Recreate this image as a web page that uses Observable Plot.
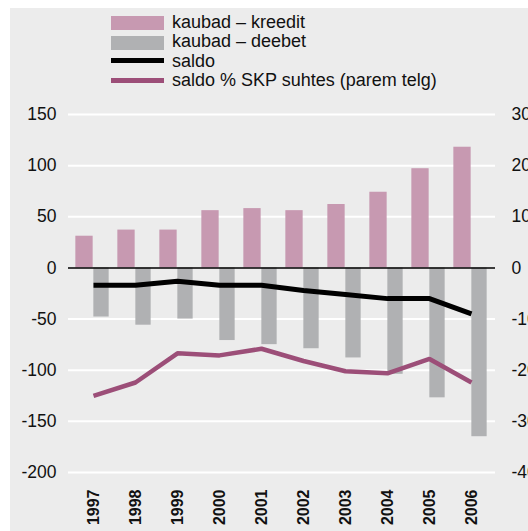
<!DOCTYPE html>
<html>
<head>
<meta charset="utf-8">
<script src="https://cdn.jsdelivr.net/npm/d3@7"></script>
<script src="https://cdn.jsdelivr.net/npm/@observablehq/plot@0.6"></script>
<style>
  html, body { margin: 0; padding: 0; background: #fff; }
  #wrap { position: relative; width: 528px; height: 531px; overflow: hidden; font-family: "Liberation Sans", Arial, sans-serif; }
  #bg { position: absolute; left: 10px; top: 8px; right: 0; bottom: 0; background: #ececec; }
  #chart { position: absolute; left: 0; top: 0; }
  .lg-sw { position: absolute; left: 111px; width: 53px; }
  .lg-tx { position: absolute; left: 172px; font-size: 18px; line-height: 18px; color: #111; white-space: nowrap; }
</style>
</head>
<body>
<div id="wrap">
  <div id="bg"></div>
  <div id="chart"></div>
  <div id="legend"></div>
</div>
<script>
const years = ["1997","1998","1999","2000","2001","2002","2003","2004","2005","2006"];
const kreedit = [31, 37, 37, 56, 58, 56, 62, 74, 97, 118];
const deebet = [-48, -56, -50, -71, -75, -79, -88, -104, -127, -165];
const saldo = [-17, -17, -13, -17, -17, -22, -26, -30, -30, -45];
const saldoPct = [-25, -22.4, -16.7, -17.1, -15.8, -18.2, -20.2, -20.6, -17.8, -22.4];
const leftTicks = [-200, -150, -100, -50, 0, 50, 100, 150];
const legendItems = [
  {label: "kaubad – kreedit", color: "#c799b1", kind: "bar"},
  {label: "kaubad – deebet", color: "#b0b1b3", kind: "bar"},
  {label: "saldo", color: "#000000", kind: "line"},
  {label: "saldo % SKP suhtes (parem telg)", color: "#9c4e78", kind: "line"}
];

const rows = years.map((y, i) => ({year: y, kreedit: kreedit[i], deebet: deebet[i], saldo: saldo[i], pct: saldoPct[i]}));

const W = 528, H = 531;
const mL = 68, mR = 33, mT = 114, mB = 59;
const bw = (W - mL - mR) / years.length;

const chart = Plot.plot({
  width: W, height: H,
  marginLeft: mL, marginRight: mR, marginTop: mT, marginBottom: mB,
  style: {background: "transparent", fontFamily: "'Liberation Sans', Arial, sans-serif", fontSize: "17.5px", color: "#111"},
  x: {type: "band", domain: years, paddingInner: 0, paddingOuter: 0},
  y: {domain: [-200, 150]},
  marks: [
    Plot.ruleY(leftTicks.filter(d => d !== 0), {stroke: "#ffffff", strokeWidth: 2}),
    Plot.barY(rows, {x: "year", y: "kreedit", fill: "#c799b1", insetLeft: bw / 2 - 18, insetRight: bw / 2}),
    Plot.barY(rows, {x: "year", y: "deebet", fill: "#b0b1b3", insetLeft: bw / 2, insetRight: bw / 2 - 16}),
    Plot.ruleY([0], {stroke: "#000", strokeWidth: 1.5}),
    Plot.lineY(rows, {x: "year", y: "saldo", stroke: "#000", strokeWidth: 5, strokeLinecap: "butt", strokeLinejoin: "miter"}),
    Plot.lineY(rows, {x: "year", y: d => d.pct * 5, stroke: "#9c4e78", strokeWidth: 4.5, strokeLinecap: "butt", strokeLinejoin: "miter"}),
    Plot.axisY({anchor: "left", ticks: leftTicks, tickSize: 0, tickPadding: 12, tickFormat: d => String(d), label: null}),
    Plot.axisY({anchor: "right", ticks: leftTicks, tickSize: 0, tickPadding: 16, tickFormat: d => String(d / 5), label: null}),
    Plot.axisX({tickRotate: -90, tickSize: 0, tickPadding: 17, fontWeight: "bold", fontSize: 16, label: null})
  ]
});
document.getElementById("chart").appendChild(chart);

const legend = document.getElementById("legend");
const swTop = [16, 36, 58, 78];
const swH = [14, 14, 5, 5];
const txTop = [12.8, 32.3, 51.5, 70.8];
legendItems.forEach((it, i) => {
  const sw = document.createElement("div");
  sw.className = "lg-sw";
  sw.style.top = swTop[i] + "px";
  sw.style.height = swH[i] + "px";
  sw.style.background = it.color;
  legend.appendChild(sw);
  const tx = document.createElement("div");
  tx.className = "lg-tx";
  tx.style.top = txTop[i] + "px";
  tx.textContent = it.label;
  legend.appendChild(tx);
});
</script>
</body>
</html>
